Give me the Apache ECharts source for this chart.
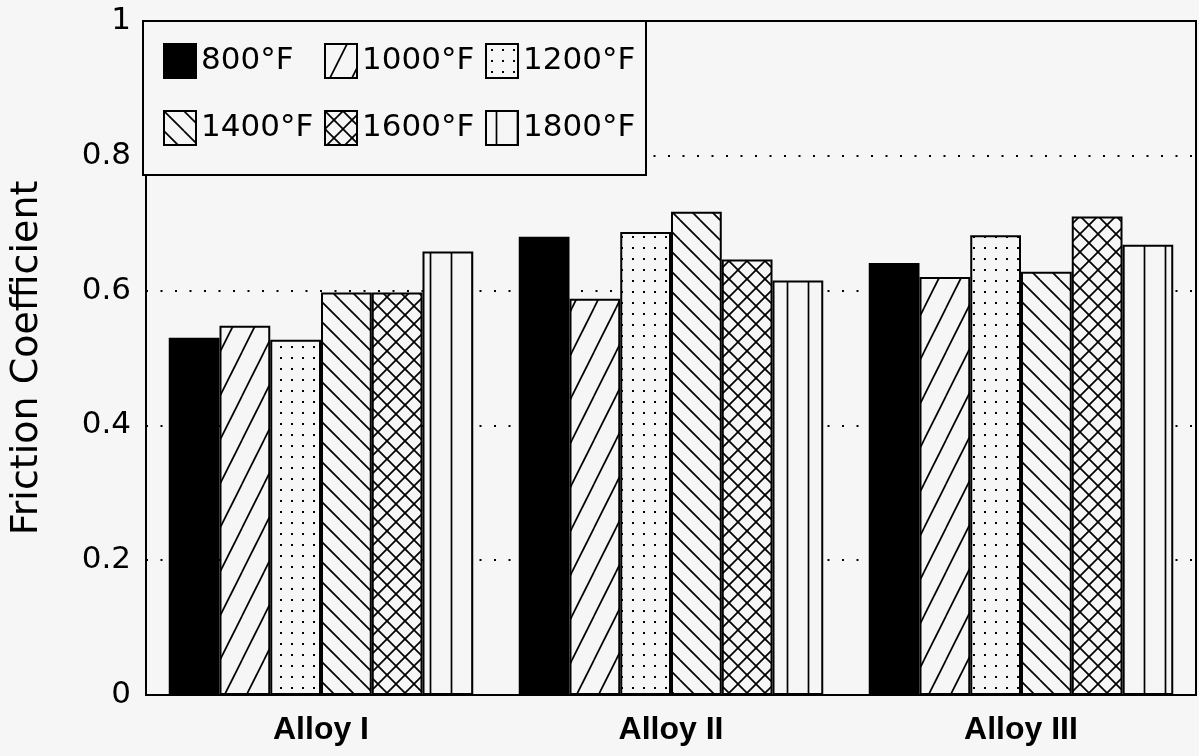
<!DOCTYPE html>
<html>
<head>
<meta charset="utf-8">
<script src="https://cdn.jsdelivr.net/npm/echarts@6/dist/echarts.min.js"></script>
<style>
html,body{margin:0;padding:0;background:#f6f6f6;}
#chart{width:1199px;height:756px;}
</style>
</head>
<body>
<div id="chart"></div>
<script>
const categories = ['Alloy I', 'Alloy II', 'Alloy III'];
const seriesNames = ['800°F', '1000°F', '1200°F', '1400°F', '1600°F', '1800°F'];
const v800  = [0.530, 0.680, 0.641];
const v1000 = [0.548, 0.588, 0.620];
const v1200 = [0.527, 0.687, 0.682];
const v1400 = [0.597, 0.717, 0.628];
const v1600 = [0.597, 0.646, 0.710];
const v1800 = [0.658, 0.615, 0.668];
const yTicks = [0, 0.2, 0.4, 0.6, 0.8, 1];

const BG = '#f6f6f6';
function tile(w, h, draw) {
  const c = document.createElement('canvas');
  c.width = w; c.height = h;
  const ctx = c.getContext('2d');
  ctx.fillStyle = BG; ctx.fillRect(0, 0, w, h);
  ctx.strokeStyle = '#000'; ctx.fillStyle = '#000'; ctx.lineWidth = 1.7;
  draw(ctx, w, h);
  return c;
}
function seg(ctx, w, h, x1, y1, x2, y2) {
  for (const dx of [-w, 0, w]) for (const dy of [-h, 0, h]) {
    ctx.beginPath(); ctx.moveTo(x1 + dx, y1 + dy); ctx.lineTo(x2 + dx, y2 + dy); ctx.stroke();
  }
}
const pats = [
  '#000',
  { image: tile(22, 44, (c, w, h) => seg(c, w, h, 0, 44, 22, 0)), repeat: 'repeat' },
  { image: tile(11, 11, (c) => c.fillRect(5, 5, 2, 2)), repeat: 'repeat' },
  { image: tile(20, 20, (c, w, h) => seg(c, w, h, 0, 0, 20, 20)), repeat: 'repeat' },
  { image: tile(18, 18, (c, w, h) => { seg(c, w, h, 0, 0, 18, 18); seg(c, w, h, 0, 18, 18, 0); }), repeat: 'repeat' },
  { image: tile(21, 4, (c, w, h) => seg(c, w, h, 10.5, 0, 10.5, 4)), repeat: 'repeat' }
];
const allValues = [v800, v1000, v1200, v1400, v1600, v1800];

const FONT = 'DejaVu Sans, Liberation Sans, Arial, sans-serif';
const legendCommon = {
  itemWidth: 32, itemHeight: 34, itemGap: 6,
  icon: 'rect',
  orient: 'horizontal',
  formatter: n => '{a|' + n + '}',
  textStyle: {
    rich: { a: { width: 117, fontSize: 31, lineHeight: 34, color: '#000', fontFamily: FONT } }
  }
};

const chart = echarts.init(document.getElementById('chart'));
chart.setOption({
  backgroundColor: BG,
  animation: false,
  textStyle: { fontFamily: FONT, color: '#000' },
  grid: { left: 143, right: 3, top: 21, bottom: 61, show: true, borderColor: '#000', borderWidth: 2, backgroundColor: 'transparent' },
  legend: [
    Object.assign({}, legendCommon, {
      left: 143, top: 21, width: 600,
      padding: [22, 6, 96, 20],
      backgroundColor: BG, borderColor: '#000', borderWidth: 2,
      data: seriesNames.slice(0, 3)
    }),
    Object.assign({}, legendCommon, {
      left: 143, top: 110, width: 600,
      padding: [0, 6, 0, 20],
      data: seriesNames.slice(3)
    })
  ],
  xAxis: {
    type: 'category', data: categories,
    axisLine: { show: true, lineStyle: { color: '#000', width: 2 } },
    axisTick: { show: false },
    axisLabel: { fontSize: 32, fontWeight: 'bold', color: '#000', margin: 19, fontFamily: 'Liberation Sans, Arial, sans-serif' }
  },
  yAxis: {
    type: 'value', min: 0, max: 1, interval: 0.2,
    name: 'Friction Coefficient', nameLocation: 'middle', nameRotate: 90, nameGap: 100,
    nameTextStyle: { fontSize: 38, color: '#000', fontFamily: FONT },
    axisLine: { show: true, lineStyle: { color: '#000', width: 2 } },
    axisTick: { show: false },
    axisLabel: { fontSize: 31, color: '#000', margin: 15, fontFamily: FONT, formatter: v => String(+v.toFixed(1)) },
    splitLine: { show: true, showMinLine: false, showMaxLine: false, lineStyle: { color: '#000', width: 2, type: [2, 12.5] } }
  },
  series: seriesNames.map((n, i) => ({
    name: n, type: 'bar', data: allValues[i],
    barGap: '0%', barCategoryGap: '13%',
    itemStyle: { color: pats[i], borderColor: '#000', borderWidth: 2 }
  }))
});
</script>
</body>
</html>
